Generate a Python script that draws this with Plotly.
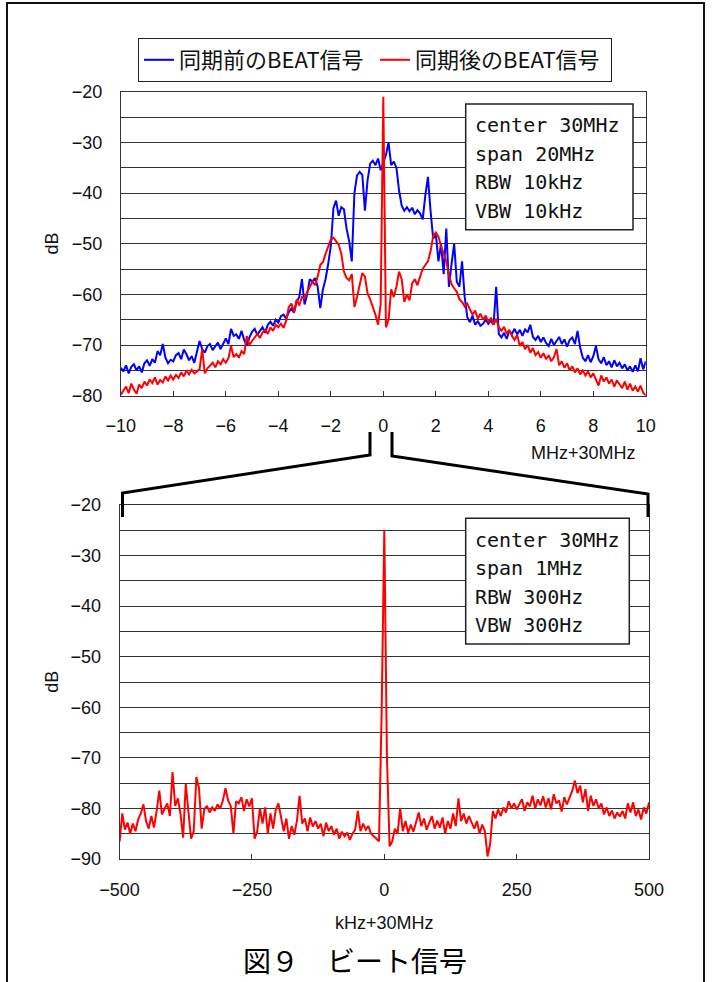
import plotly.graph_objects as go

W, H = 712, 982


def PX(x):
    return x / W


def PY(y):
    return 1 - y / H


# ---------------- data ----------------
# top chart: frequency offset (MHz, +30MHz), 0.1 MHz sweep points
top_freq = [round(-10 + 0.1 * i, 1) for i in range(201)]

# before synchronisation (blue)
top_before = [
    -74.5, -75.2, -74.0, -75.6, -74.3, -73.8, -75.0, -74.2, -75.4, -73.6,
    -73.0, -74.1, -72.8, -73.5, -71.2, -72.0, -69.8, -72.5, -73.6, -72.9,
    -73.2, -72.0, -71.6, -72.8, -70.9, -71.8, -73.0, -72.2, -73.5, -71.0,
    -69.2, -70.8, -71.5, -70.2, -69.8, -71.0, -70.3, -69.5, -70.8, -69.6,
    -68.7, -69.8, -66.8, -68.2, -67.9, -68.8, -67.2, -69.0, -70.1, -68.5,
    -67.4, -66.8, -68.0, -67.2, -66.5, -67.6, -66.0, -65.4, -66.2, -65.0,
    -65.6, -64.3, -64.0, -64.8, -63.5, -62.8, -63.6, -61.5, -60.5, -57.0,
    -62.0, -60.0, -57.0, -57.5, -56.8, -58.5, -62.7, -59.0, -57.0, -54.0,
    -50.5, -43.0, -41.5, -44.5, -42.8, -43.2, -47.0, -49.5, -53.5, -40.0,
    -36.5, -35.8, -36.4, -43.5, -37.5, -34.2, -33.6, -34.5, -33.2, -35.5,
    -34.0, -32.5, -30.0, -34.5, -33.8, -35.0, -39.5, -42.5, -43.5, -42.8,
    -43.6, -42.9, -44.2, -43.4, -44.0, -45.2, -40.5, -36.8, -43.5, -49.0,
    -48.0, -53.5, -50.0, -56.0, -47.0, -58.5, -54.0, -50.0, -57.5, -58.5,
    -53.5, -60.5, -64.5, -65.5, -64.2, -66.0, -65.3, -66.2, -65.8, -65.0,
    -65.8, -65.2, -66.0, -58.5, -67.8, -68.5, -67.6, -68.8, -67.2, -67.8,
    -66.8, -67.9, -67.0, -68.2, -66.9, -67.5, -66.0, -68.4, -69.0, -68.2,
    -69.4, -68.5, -69.6, -70.2, -68.8, -70.0, -69.2, -68.4, -69.8, -68.9,
    -70.3, -69.0, -68.5, -69.8, -67.2, -70.5, -72.5, -73.2, -72.0, -73.4,
    -72.2, -70.2, -72.8, -73.6, -72.4, -74.0, -73.2, -74.4, -73.0, -74.2,
    -73.5, -74.6, -73.8, -75.0, -74.2, -75.3, -74.0, -75.2, -72.6, -74.8,
    -73.2,
]

# after synchronisation (red)
top_after = [
    -79.8, -79.0, -78.2, -79.5, -77.6, -78.8, -79.6, -77.8, -78.5, -77.2,
    -78.0, -76.8, -77.5, -76.4, -77.8, -76.9, -77.4, -76.2, -77.0, -76.0,
    -76.8, -75.9, -76.5, -75.4, -76.2, -75.0, -75.8, -74.9, -75.6, -75.2,
    -74.8, -70.8, -75.6, -74.6, -74.0, -73.5, -74.4, -73.2, -73.8, -72.8,
    -73.5, -72.6, -70.2, -72.4, -71.8, -72.5, -71.2, -71.8, -68.2, -70.0,
    -69.2, -68.4, -67.8, -68.6, -67.5, -67.0, -67.8, -66.5, -67.2, -66.0,
    -66.5, -65.8, -66.6, -65.2, -62.5, -61.8, -63.5, -61.0, -62.2, -60.5,
    -60.8, -59.5, -58.6, -57.5, -58.2, -56.5, -54.2, -53.6, -52.0, -50.5,
    -49.2, -48.8, -49.5, -50.2, -52.0, -55.5, -56.8, -57.2, -56.0, -62.5,
    -60.5, -58.0, -55.8, -56.5, -59.8, -61.0, -62.5, -64.0, -66.0, -62.0,
    -21.0, -66.5, -65.0, -59.0, -60.5, -58.5, -55.5, -57.0, -61.5, -60.0,
    -61.2, -57.8, -57.0, -58.2, -56.5, -55.0, -54.2, -53.5, -51.5, -48.5,
    -47.8, -48.6, -50.5, -52.0, -53.5, -56.2, -58.0, -58.8, -59.5, -61.0,
    -61.5, -62.4, -61.8, -63.0, -64.0, -63.2, -64.8, -63.8, -65.0, -64.2,
    -65.5, -64.6, -66.0, -64.8, -66.5, -67.2, -66.4, -67.8, -67.0, -68.2,
    -69.0, -68.0, -70.2, -69.4, -70.8, -70.0, -71.5, -70.6, -72.0, -71.4,
    -72.5, -71.6, -72.8, -72.0, -73.2, -72.4, -70.8, -74.0, -73.2, -74.5,
    -73.6, -75.0, -74.2, -75.4, -74.6, -75.8, -75.0, -76.0, -75.2, -76.4,
    -75.6, -76.8, -78.0, -76.0, -77.2, -76.4, -77.6, -76.8, -78.2, -77.0,
    -77.8, -78.5, -77.2, -78.8, -77.6, -79.0, -78.2, -79.2, -78.0, -79.4,
    -80.0,
]

# bottom chart: frequency offset (kHz, +30MHz), 5 kHz sweep points
bot_freq = [-500 + 5 * i for i in range(201)]
bot_after = [
    -86.5, -81.0, -84.2, -82.8, -85.0, -83.0, -84.5, -82.2, -81.0, -79.2,
    -82.5, -84.0, -81.5, -83.8, -80.5, -76.5, -81.2, -80.0, -79.0, -81.5,
    -72.8, -79.5, -78.0, -81.0, -85.8, -75.2, -80.5, -86.0, -84.5, -73.8,
    -76.0, -84.0, -80.2, -79.5, -80.8, -79.8, -80.5, -79.2, -80.0, -78.5,
    -76.0, -78.4, -79.5, -85.0, -78.6, -79.0, -77.8, -80.5, -78.2, -79.6,
    -78.0, -86.0, -84.5, -80.0, -83.0, -79.8, -85.0, -81.0, -84.0, -80.2,
    -79.0, -81.5, -84.5, -82.0, -86.0, -83.5, -85.2, -82.4, -77.5, -83.0,
    -82.0, -84.5, -81.8, -83.6, -82.5, -84.0, -83.0, -85.5, -82.8, -84.5,
    -83.5, -85.2, -84.0, -86.0, -84.6, -85.5, -84.8, -86.2, -85.0, -84.2,
    -80.5, -84.5, -83.0, -84.2, -83.5, -85.0, -85.5, -86.0, -86.5, -61.0,
    -25.0, -70.0, -87.5, -86.5, -84.0, -85.0, -80.0, -84.5, -82.5, -84.8,
    -83.2, -84.6, -82.8, -80.8, -83.5, -82.0, -84.2, -83.0, -81.5, -84.0,
    -82.4, -83.8, -81.8, -85.0, -82.5, -84.0, -81.0, -83.5, -78.0, -82.5,
    -81.0, -83.0, -81.5, -82.8, -84.0, -82.5, -85.0, -83.2, -84.5, -89.5,
    -87.0, -80.5, -82.0, -80.2, -81.5, -79.8, -80.8, -78.6, -80.0, -79.0,
    -80.2, -79.2, -78.2, -80.5, -78.8, -79.6, -77.5, -80.0, -78.2, -79.4,
    -77.6, -79.8, -78.0, -80.2, -77.2, -79.0, -78.4, -80.6, -77.8, -79.2,
    -78.0, -76.5, -74.5, -77.0, -75.5, -78.8, -76.2, -80.5, -77.5, -79.5,
    -78.2, -80.0, -79.0, -81.2, -79.8, -81.5, -80.4, -82.0, -80.8, -81.6,
    -80.5, -82.0, -79.0, -80.8, -78.8, -81.5, -80.2, -82.2, -79.8, -81.0,
    -78.8,
]

top_xticks = [-10, -8, -6, -4, -2, 0, 2, 4, 6, 8, 10]
top_yticks = [-80, -75, -70, -65, -60, -55, -50, -45, -40, -35, -30, -25, -20]
bot_xticks = [-500, -250, 0, 250, 500]
bot_yticks = [-90, -85, -80, -75, -70, -65, -60, -55, -50, -45, -40, -35, -30, -25, -20]

series_names = ["同期前のBEAT信号", "同期後のBEAT信号"]
top_box_lines = ["center 30MHz", "span 20MHz", "RBW 10kHz", "VBW 10kHz"]
bot_box_lines = ["center 30MHz", "span 1MHz", "RBW 300Hz", "VBW 300Hz"]
caption = "図９　ビート信号"


def lab(v, step):
    if v % step != 0:
        return ""
    return str(v).replace("-", "−")


# ---------------- figure ----------------
fig = go.Figure()
fig.add_trace(go.Scatter(x=top_freq, y=top_before, mode="lines", name=series_names[0],
                         line=dict(color="#0000ff", width=2), xaxis="x", yaxis="y"))
fig.add_trace(go.Scatter(x=top_freq, y=top_after, mode="lines", name=series_names[1],
                         line=dict(color="#ff0000", width=2), xaxis="x", yaxis="y"))
fig.add_trace(go.Scatter(x=bot_freq, y=bot_after, mode="lines", showlegend=False,
                         line=dict(color="#ff0000", width=2), xaxis="x2", yaxis="y2"))

tickfont = dict(family="Liberation Sans, Arial, sans-serif", size=18, color="#111")
axcol = "#333"

common_x = dict(ticks="inside", ticklen=5, tickwidth=1, tickcolor=axcol, showline=True,
                linecolor=axcol, linewidth=1, mirror=True, showgrid=False, zeroline=False,
                tickfont=tickfont, automargin=False, ticklabelstandoff=14, fixedrange=True)
common_y = dict(ticks="", showline=True, linecolor=axcol, linewidth=1, mirror=True,
                showgrid=True, gridcolor=axcol, gridwidth=1, zeroline=False,
                tickfont=tickfont, automargin=False, ticklabelstandoff=14, fixedrange=True)

fig.update_layout(
    template="none",
    width=W, height=H,
    margin=dict(l=0, r=0, t=0, b=0),
    paper_bgcolor="white", plot_bgcolor="white",
    xaxis=dict(domain=[PX(120.8), PX(645.8)], range=[-10, 10], anchor="y",
               tickvals=top_xticks, ticktext=[lab(v, 1) for v in top_xticks], **common_x),
    yaxis=dict(domain=[PY(395.7), PY(91.7)], range=[-80, -20], anchor="x",
               tickvals=top_yticks, ticktext=[lab(v, 10) for v in top_yticks], **common_y),
    xaxis2=dict(domain=[PX(119.6), PX(649)], range=[-500, 500], anchor="y2",
                tickvals=bot_xticks, ticktext=[lab(v, 1) for v in bot_xticks], **common_x),
    yaxis2=dict(domain=[PY(859), PY(505)], range=[-90, -20], anchor="x2",
                tickvals=bot_yticks, ticktext=[lab(v, 10) for v in bot_yticks], **common_y),
    showlegend=True,
    legend=dict(orientation="h", x=PX(138), y=PY(60), xanchor="left", yanchor="middle",
                bordercolor="#222", borderwidth=1, bgcolor="white",
                entrywidth=191, entrywidthmode="pixels",
                font=dict(family="Noto Sans CJK JP", size=22, color="#111"),
                itemclick=False, itemdoubleclick=False),
)

shapes = []
# outer frame
shapes.append(dict(type="rect", xref="paper", yref="paper", x0=PX(7), x1=PX(704),
                   y0=PY(1010), y1=PY(3), line=dict(color="#111", width=2), layer="above"))
# zoom bracket
shapes.append(dict(type="path", xref="paper", yref="paper",
                   path=f"M {PX(370)},{PY(432)} L {PX(370)},{PY(455)} L {PX(122.5)},{PY(493)} L {PX(122.5)},{PY(517)}",
                   line=dict(color="black", width=3), layer="above"))
shapes.append(dict(type="path", xref="paper", yref="paper",
                   path=f"M {PX(392)},{PY(432)} L {PX(392)},{PY(456)} L {PX(648)},{PY(494)} L {PX(648)},{PY(517)}",
                   line=dict(color="black", width=3), layer="above"))
# info boxes
shapes.append(dict(type="rect", xref="paper", yref="paper", x0=PX(465.7), x1=PX(633),
                   y0=PY(229.7), y1=PY(104), line=dict(color="#222", width=1.5),
                   fillcolor="white", layer="above"))
shapes.append(dict(type="rect", xref="paper", yref="paper", x0=PX(465.7), x1=PX(629.3),
                   y0=PY(644), y1=PY(518.3), line=dict(color="#222", width=1.5),
                   fillcolor="white", layer="above"))
fig.update_layout(shapes=shapes)

annos = []
mono = dict(family="DejaVu Sans Mono, monospace", size=20, color="#111")
for txt, yy in zip(top_box_lines, [125, 154, 182.3, 210.7]):
    annos.append(dict(text=txt, xref="paper", yref="paper", x=PX(473), y=PY(yy),
                      xanchor="left", yanchor="middle", showarrow=False, font=mono))
for txt, yy in zip(bot_box_lines, [540, 568.3, 596.7, 625]):
    annos.append(dict(text=txt, xref="paper", yref="paper", x=PX(473), y=PY(yy),
                      xanchor="left", yanchor="middle", showarrow=False, font=mono))
lblfont = dict(family="Liberation Sans, Arial, sans-serif", size=18, color="#111")
center = dict(xanchor="center", yanchor="middle", showarrow=False, xref="paper", yref="paper")
annos.append(dict(text="dB", x=PX(51.7), y=PY(243.7), textangle=-90, font=lblfont, **center))
annos.append(dict(text="dB", x=PX(51.7), y=PY(682), textangle=-90, font=lblfont, **center))
annos.append(dict(text="MHz+30MHz", x=PX(583), y=PY(453), font=lblfont, **center))
annos.append(dict(text="kHz+30MHz", x=PX(384), y=PY(923), font=lblfont, **center))
annos.append(dict(text=caption, x=PX(355), y=PY(960),
                  font=dict(family="Noto Sans CJK JP", size=28, color="#000"), **center))
fig.update_layout(annotations=annos)

fig.write_html("out.html", post_script="document.body.style.margin='0';",
               config={"displayModeBar": False})
